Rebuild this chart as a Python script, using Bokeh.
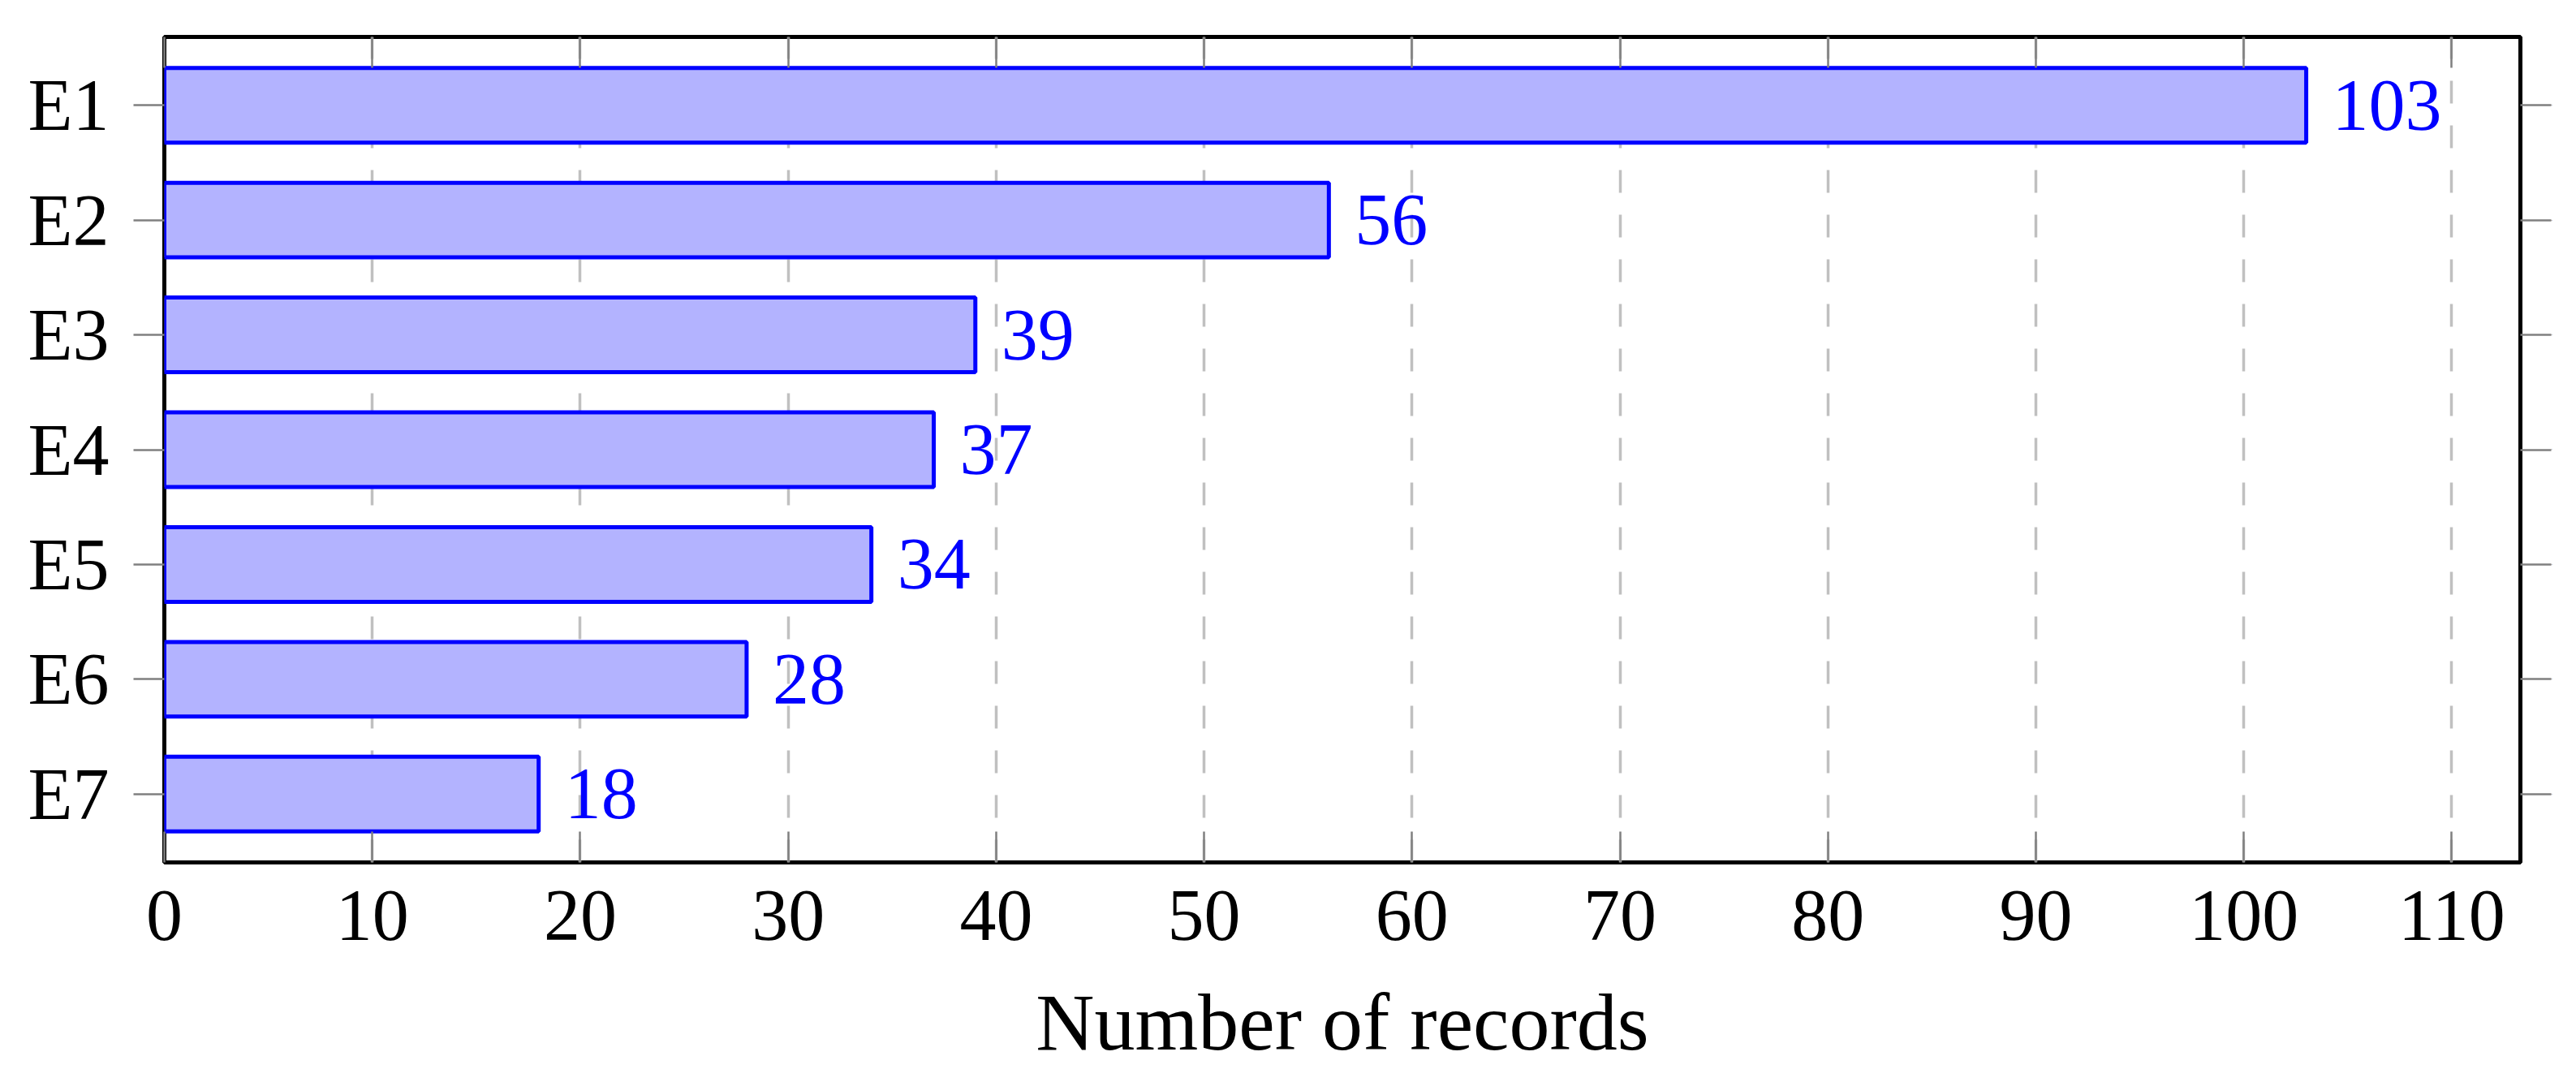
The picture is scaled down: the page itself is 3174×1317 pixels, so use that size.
from bokeh.plotting import figure
from bokeh.models import (FactorRange, Range1d, LinearAxis, CategoricalAxis,
                          FixedTicker, CustomJSTickFormatter, ColumnDataSource)
from bokeh.core.properties import value
from bokeh.embed import file_html
from bokeh.resources import INLINE

# ---- data ----
categories = ["E1", "E2", "E3", "E4", "E5", "E6", "E7"]
records = [103, 56, 39, 37, 34, 28, 18]
x_ticks = [0, 10, 20, 30, 40, 50, 60, 70, 80, 90, 100, 110]
x_label = "Number of records"

FONT = "Liberation Serif"
TICK_COLOR = "#808080"

src = ColumnDataSource(dict(cat=categories, val=records,
                            lbl=[str(v) for v in records]))

p = figure(
    y_range=FactorRange(factors=categories[::-1], range_padding=0.095,
                        range_padding_units="absolute"),
    x_range=Range1d(0, 113.3),
    frame_width=2903, frame_height=1017,
    min_border_left=202, min_border_right=65,
    min_border_top=45, min_border_bottom=250,
    output_backend="svg", toolbar_location=None,
    background_fill_color="white", border_fill_color="white",
)

p.outline_line_color = "black"
p.outline_line_width = 5

# grid
p.ygrid.grid_line_color = None
p.xgrid.ticker = FixedTicker(ticks=x_ticks)
p.xgrid.grid_line_color = "#c0c0c0"
p.xgrid.grid_line_width = 3.5
p.xgrid.grid_line_dash = "28 27"

# bars
p.hbar(y="cat", right="val", left=0, height=0.65, source=src,
       fill_color="#b3b3ff", line_color="#0000ff", line_width=5)

# value labels
p.text(x="val", y="cat", text="lbl", source=src, x_offset=32,
       text_align="left", text_baseline="middle",
       text_font=value(FONT), text_font_size="90px", text_color="#0000ff")

# bottom x axis
xa = p.xaxis[0]
xa.ticker = FixedTicker(ticks=x_ticks)
xa.major_tick_in = 38
xa.major_tick_out = 0
xa.minor_tick_line_color = None
xa.major_tick_line_color = TICK_COLOR
xa.major_tick_line_width = 2.5
xa.axis_line_color = None
xa.major_label_text_font = FONT
xa.major_label_text_font_size = "90px"
xa.major_label_text_color = "black"
xa.major_label_standoff = 35
xa.axis_label = x_label
xa.axis_label_text_font = FONT
xa.axis_label_text_font_size = "100px"
xa.axis_label_text_font_style = "normal"
xa.axis_label_text_color = "black"
xa.axis_label_standoff = 43

# left y axis
ya = p.yaxis[0]
ya.major_tick_in = 0
ya.major_tick_out = 38
ya.major_tick_line_color = TICK_COLOR
ya.major_tick_line_width = 2.5
ya.axis_line_color = None
ya.major_label_text_font = FONT
ya.major_label_text_font_size = "90px"
ya.major_label_text_color = "black"
ya.major_label_standoff = 30

# right y axis (ticks only)
ra = CategoricalAxis(major_tick_in=0, major_tick_out=38,
                     major_tick_line_color=TICK_COLOR, major_tick_line_width=2.5,
                     axis_line_color=None,
                     major_label_overrides={c: "" for c in categories},
                     major_label_text_font_size="1px", major_label_standoff=0)
p.add_layout(ra, "right")

# top x axis (ticks only)
ta = LinearAxis(ticker=FixedTicker(ticks=x_ticks), major_tick_in=38,
                major_tick_out=0, major_tick_line_color=TICK_COLOR,
                major_tick_line_width=2.5, minor_tick_line_color=None,
                axis_line_color=None,
                formatter=CustomJSTickFormatter(code="return ''"),
                major_label_text_font_size="1px", major_label_standoff=0)
p.add_layout(ta, "above")

open("out.html", "w").write(file_html(p, INLINE))
